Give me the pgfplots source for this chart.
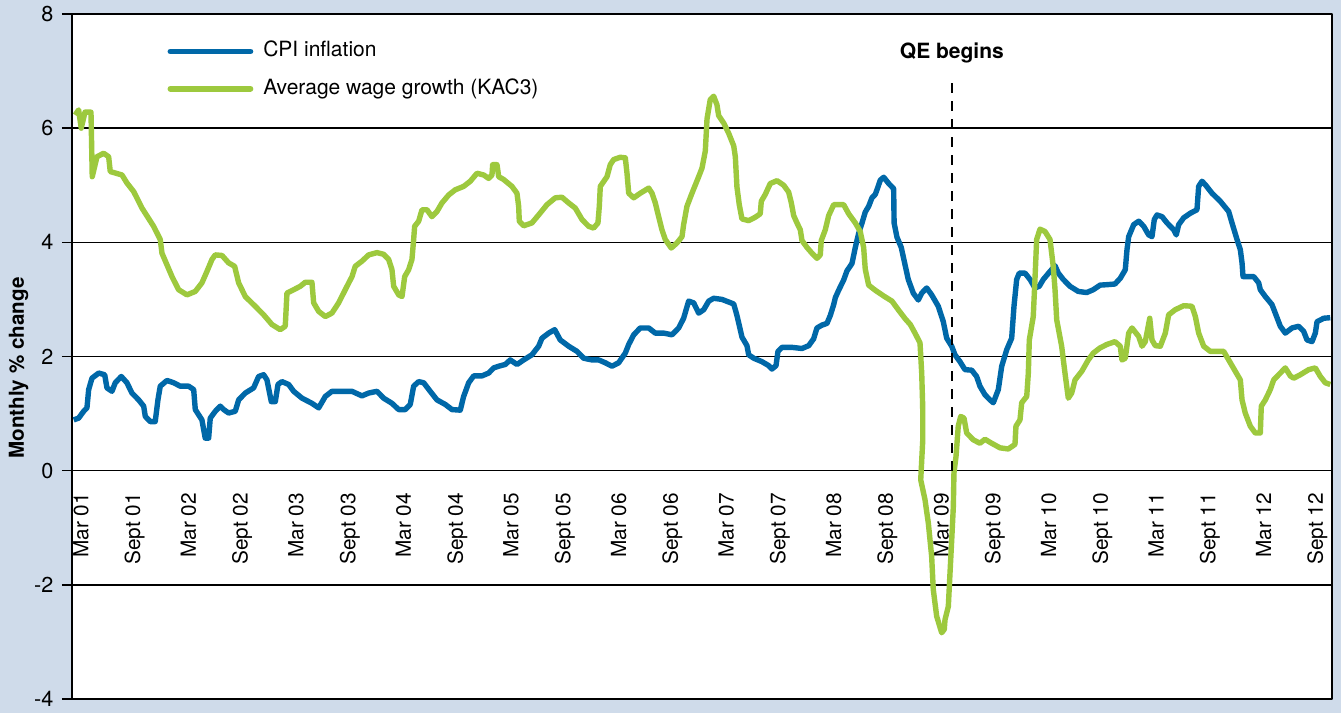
\documentclass[border=0pt]{standalone}
\usepackage{fontspec}
\setmainfont{TeX Gyre Heros}
\usepackage{pgfplots}
\usepackage{pgfplotstable}
\pgfplotsset{compat=1.18}

\definecolor{bgblue}{HTML}{CFDBEA}
\definecolor{cpiblue}{HTML}{0068A8}
\definecolor{wagegreen}{HTML}{9DC93E}

% x = months after March 2001, y = per cent
\pgfplotstableread{
m v
-0.81 0.89
-0.26 0.92
0.30 1.04
0.67 1.10
0.86 1.42
1.23 1.62
1.98 1.71
2.65 1.68
2.90 1.45
3.46 1.39
3.83 1.54
4.50 1.65
5.13 1.54
5.69 1.36
6.44 1.24
7.00 1.13
7.18 0.95
7.73 0.86
8.29 0.86
8.59 1.24
8.85 1.48
9.60 1.58
10.35 1.54
11.08 1.48
12.02 1.48
12.58 1.42
12.76 1.07
13.50 0.89
13.87 0.57
14.25 0.57
14.43 0.92
14.99 1.04
15.55 1.13
15.93 1.07
16.48 1.01
17.22 1.04
17.60 1.24
18.34 1.36
19.27 1.45
19.83 1.65
20.39 1.68
20.76 1.59
21.24 1.21
21.69 1.21
21.99 1.51
22.43 1.56
23.18 1.51
23.74 1.39
24.67 1.27
25.78 1.18
26.53 1.10
27.27 1.30
28.01 1.39
29.13 1.39
30.25 1.39
31.36 1.31
32.11 1.36
33.04 1.39
33.78 1.27
34.71 1.18
35.46 1.07
36.19 1.07
36.75 1.16
37.13 1.48
37.69 1.56
38.25 1.54
38.98 1.39
39.73 1.24
40.66 1.16
41.41 1.07
42.33 1.06
42.71 1.30
43.27 1.54
43.83 1.66
44.75 1.66
45.50 1.71
46.06 1.80
46.62 1.83
47.35 1.86
47.91 1.94
48.66 1.86
49.41 1.94
50.33 2.03
51.08 2.18
51.45 2.32
52.20 2.41
52.87 2.47
53.49 2.29
54.43 2.18
55.36 2.09
56.10 1.97
57.03 1.94
57.78 1.94
58.52 1.89
59.26 1.83
60.01 1.89
60.75 2.06
61.13 2.21
61.69 2.38
62.42 2.50
63.36 2.50
64.10 2.41
65.03 2.41
65.96 2.38
66.71 2.50
67.26 2.67
67.82 2.97
68.38 2.94
68.94 2.76
69.50 2.82
70.06 2.97
70.61 3.02
71.54 3.00
72.85 2.92
73.21 2.72
73.58 2.47
73.77 2.34
74.33 2.19
74.52 2.03
75.08 1.97
76.00 1.91
76.75 1.84
77.12 1.78
77.57 1.84
77.79 2.09
78.24 2.16
79.35 2.16
80.47 2.14
81.22 2.19
81.77 2.31
82.14 2.50
82.70 2.55
83.26 2.58
83.63 2.72
84.01 2.91
84.19 3.03
84.56 3.16
85.12 3.34
85.49 3.50
86.05 3.63
86.42 3.91
86.80 4.16
87.17 4.34
87.53 4.53
87.91 4.63
88.28 4.78
88.65 4.84
88.95 4.97
89.21 5.09
89.59 5.14
90.15 5.03
90.70 4.94
90.75 4.34
91.07 4.09
91.55 3.91
91.77 3.75
92.33 3.35
92.89 3.11
93.45 2.99
93.83 3.11
94.39 3.20
94.94 3.08
95.68 2.88
96.24 2.61
96.62 2.32
97.18 2.18
97.54 2.03
98.10 1.91
98.66 1.77
99.41 1.76
99.96 1.65
100.33 1.48
100.89 1.33
101.45 1.24
101.82 1.19
102.38 1.42
102.76 1.83
103.32 2.12
103.87 2.32
104.13 2.88
104.43 3.35
104.72 3.46
105.36 3.46
105.92 3.35
106.47 3.20
106.95 3.23
107.40 3.35
108.15 3.49
108.71 3.59
109.08 3.46
109.63 3.35
110.38 3.23
111.30 3.14
112.24 3.12
112.98 3.17
113.73 3.25
114.65 3.26
115.40 3.27
115.99 3.37
116.55 3.52
116.74 3.87
116.93 4.10
117.49 4.31
118.05 4.37
118.61 4.28
119.16 4.13
119.53 4.10
119.79 4.40
120.09 4.48
120.65 4.45
121.21 4.34
121.95 4.22
122.24 4.13
122.51 4.31
123.07 4.43
123.81 4.51
124.55 4.57
124.74 4.98
125.11 5.07
125.48 5.01
126.23 4.86
127.15 4.72
128.09 4.54
128.46 4.34
129.02 4.05
129.39 3.87
129.58 3.64
129.69 3.40
130.13 3.40
130.88 3.40
131.44 3.29
131.62 3.17
132.18 3.05
132.92 2.91
133.29 2.76
133.85 2.53
134.41 2.41
135.16 2.50
135.90 2.53
136.46 2.44
136.83 2.29
137.39 2.26
137.76 2.41
137.95 2.61
138.70 2.67
139.43 2.68
}\cpi

\pgfplotstableread{
m v
-0.64 6.23
-0.26 6.32
0.03 6.00
0.45 6.28
1.12 6.28
1.26 5.15
1.79 5.50
2.53 5.56
3.09 5.50
3.27 5.24
4.58 5.18
5.13 5.04
5.88 4.89
6.81 4.60
8.11 4.28
8.85 4.05
9.04 3.81
10.16 3.40
10.90 3.17
11.83 3.08
12.76 3.14
13.50 3.29
14.06 3.49
14.62 3.70
14.99 3.78
15.74 3.77
16.48 3.64
17.15 3.58
17.60 3.29
18.34 3.05
19.45 2.88
20.39 2.73
21.32 2.56
22.24 2.47
22.80 2.53
22.99 3.11
23.74 3.17
24.48 3.23
25.03 3.30
25.78 3.30
25.97 2.94
26.53 2.79
27.27 2.70
28.01 2.76
28.76 2.94
29.69 3.23
30.25 3.40
30.61 3.58
31.36 3.67
32.11 3.78
33.04 3.82
33.78 3.79
34.34 3.70
34.71 3.52
34.90 3.23
35.46 3.08
35.83 3.05
36.13 3.40
36.57 3.52
36.94 3.70
37.13 4.05
37.24 4.28
37.69 4.37
38.06 4.57
38.62 4.57
39.17 4.45
39.73 4.54
40.29 4.69
41.04 4.83
41.77 4.92
42.71 4.98
43.45 5.07
44.20 5.21
44.94 5.18
45.50 5.12
45.87 5.18
45.95 5.36
46.43 5.36
46.62 5.15
47.18 5.10
48.10 4.98
48.66 4.86
48.85 4.63
48.92 4.37
49.41 4.29
50.33 4.34
51.08 4.48
52.01 4.66
52.94 4.78
53.68 4.79
54.43 4.69
55.17 4.60
55.92 4.40
56.66 4.28
57.22 4.25
57.70 4.34
57.85 4.63
57.96 4.98
58.71 5.15
59.07 5.36
59.45 5.45
60.19 5.49
60.75 5.48
60.94 5.21
61.13 4.86
61.69 4.78
62.42 4.86
63.36 4.95
63.73 4.86
64.10 4.69
64.47 4.45
64.84 4.22
65.21 4.05
65.88 3.90
66.52 3.99
67.08 4.10
67.26 4.31
67.63 4.63
68.19 4.86
68.94 5.15
69.31 5.30
69.68 5.60
69.87 6.16
70.23 6.50
70.61 6.56
70.98 6.41
71.17 6.22
71.73 6.09
72.29 5.91
72.85 5.69
73.03 5.50
73.21 4.97
73.47 4.66
73.77 4.41
74.52 4.38
75.26 4.44
75.81 4.50
75.93 4.72
76.37 4.84
76.93 5.03
77.68 5.08
78.43 5.00
78.98 4.88
79.28 4.69
79.54 4.47
79.91 4.34
80.28 4.22
80.47 4.03
81.03 3.91
81.58 3.81
82.14 3.72
82.51 3.78
82.62 4.03
83.07 4.22
83.45 4.47
84.01 4.66
85.12 4.66
85.68 4.50
86.42 4.34
86.97 4.19
87.35 3.91
87.53 3.53
87.91 3.25
88.65 3.16
89.59 3.06
90.51 2.97
91.26 2.81
91.99 2.66
92.56 2.56
93.08 2.41
93.64 2.24
93.83 1.71
93.94 1.13
93.95 0.54
93.72 -0.16
94.20 -0.51
94.57 -0.92
94.94 -1.50
95.12 -2.08
95.50 -2.55
96.06 -2.84
96.35 -2.78
96.43 -2.61
96.80 -2.38
96.99 -1.79
97.18 -1.21
97.36 -0.63
97.43 -0.04
97.66 0.25
97.91 0.78
98.18 0.95
98.55 0.92
98.85 0.66
99.59 0.54
100.33 0.48
100.89 0.55
101.64 0.48
102.57 0.40
103.49 0.38
104.24 0.46
104.35 0.78
104.80 0.89
104.99 1.19
105.55 1.30
105.73 1.71
105.84 2.29
106.28 2.70
106.47 3.35
106.66 4.05
107.03 4.23
107.59 4.19
108.15 4.05
108.51 3.58
108.71 3.17
108.90 2.64
109.45 2.18
109.82 1.71
110.19 1.27
110.57 1.36
110.94 1.59
111.69 1.74
112.42 1.94
112.98 2.06
113.73 2.15
114.48 2.21
115.40 2.26
115.99 2.18
116.18 1.94
116.55 1.97
116.93 2.41
117.30 2.50
118.05 2.35
118.42 2.18
118.78 2.26
119.28 2.67
119.53 2.29
119.90 2.19
120.46 2.18
121.02 2.41
121.39 2.73
122.13 2.82
123.07 2.89
123.99 2.88
124.37 2.70
124.74 2.41
125.30 2.18
126.04 2.09
127.53 2.09
128.09 1.94
128.83 1.74
129.39 1.59
129.58 1.24
129.94 1.01
130.50 0.78
131.06 0.66
131.62 0.66
131.73 1.13
132.18 1.24
132.73 1.42
133.11 1.59
133.85 1.71
134.41 1.80
134.97 1.66
135.35 1.62
136.08 1.68
137.02 1.77
137.76 1.80
138.32 1.65
138.87 1.54
139.43 1.51
}\wages

\begin{document}
\begin{tikzpicture}
\path[use as bounding box, fill=bgblue] (-36pt,-7pt) rectangle (634.5pt,349.5pt);
\begin{axis}[
    at={(0,0)}, anchor=south west,
    scale only axis, width=630pt, height=342.5pt,
    xmin=-1, xmax=139.62, ymin=-4, ymax=8,
    axis background/.style={fill=white},
    axis line style={black, line width=0.75pt},
    ytick={-4,-2,...,8},
    yticklabels={-4,-2,0,2,4,6,8},
    ymajorgrids, grid style={black, line width=0.7pt},
    ytick pos=left, tick align=outside, major tick length=5pt,
    ytick style={black, line width=0.75pt},
    yticklabel style={font=\fontsize{10.8}{13}\selectfont},
    yticklabel shift=0.8pt,
    xtick={0,6,...,138},
    xticklabels={Mar 01,Sept 01,Mar 02,Sept 02,Mar 03,Sept 03,Mar 04,Sept 04,
      Mar 05,Sept 05,Mar 06,Sept 06,Mar 07,Sept 07,Mar 08,Sept 08,Mar 09,Sept 09,
      Mar 10,Sept 10,Mar 11,Sept 11,Mar 12,Sept 12},
    xtick style={draw=none},
    xticklabel style={rotate=90, anchor=east, font=\fontsize{10.4}{12}\selectfont},
    xticklabel shift=-111.5pt,
    legend style={at={(axis description cs:0.0755,0.966)}, anchor=north west,
      draw=none, fill=none, inner sep=0pt, row sep=4.8pt, column sep=3pt,
      font=\fontsize{10.5}{12}\selectfont,
      nodes={inner sep=2pt, text height=7.6pt, text depth=2.2pt}},
    legend cell align=left,
    legend image code/.code={\draw[#1, line width=2.9pt, line cap=round] (0pt,0pt) -- (40pt,0pt);},
    line join=round,
]
\addplot[cpiblue, line width=2.7pt] table[x=m, y=v] {\cpi};
\addlegendentry{CPI inflation}
\addplot[wagegreen, line width=2.7pt] table[x=m, y=v] {\wages};
\addlegendentry{Average wage growth (KAC3)}
\addplot[black, line width=1.4pt, dash pattern=on 5pt off 4pt, forget plot]
  coordinates {(97.2,0) (97.2,6.87)};
\node[font=\bfseries\fontsize{10.5}{12}\selectfont] at (axis cs:97.2,7.32) {QE begins};
\end{axis}
\node[rotate=90, font=\bfseries\fontsize{10.3}{12}\selectfont] at (-26.75pt,165.5pt) {Monthly \% change};
\end{tikzpicture}
\end{document}
